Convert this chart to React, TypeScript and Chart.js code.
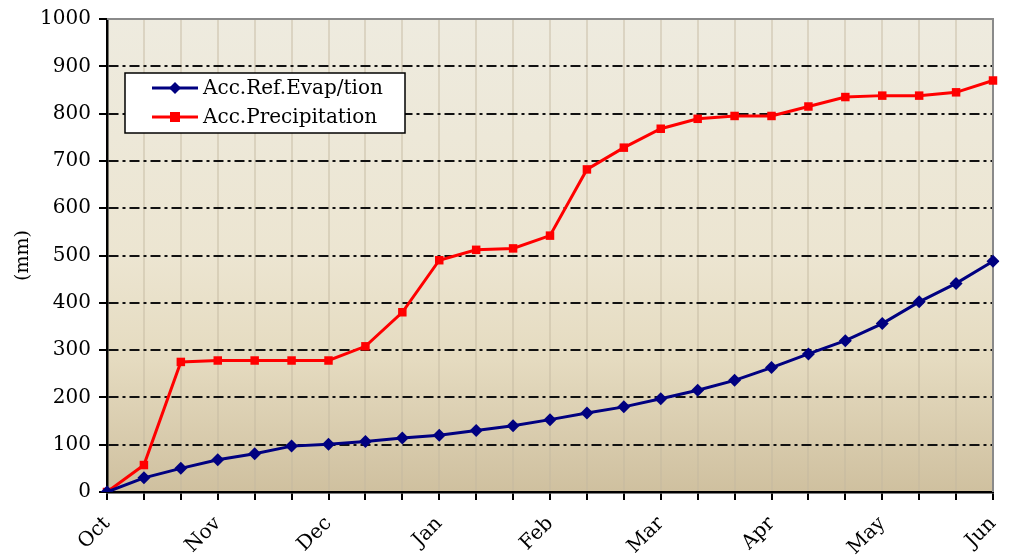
import React, { useEffect, useRef } from "react";
import { Chart, registerables } from "chart.js";

Chart.register(...registerables);

const xLabels = [
  "Oct", "", "", "Nov", "", "", "Dec", "", "", "Jan", "", "", "Feb", "", "",
  "Mar", "", "", "Apr", "", "", "May", "", "", "Jun",
];
const evapLabel = "Acc.Ref.Evap/tion";
const precipLabel = "Acc.Precipitation";
const evapValues = [
  0, 30, 50, 68, 81, 97, 101, 107, 114, 120, 130, 140, 153, 167, 180, 197,
  215, 236, 263, 292, 320, 356, 402, 441, 488,
];
const precipValues = [
  0, 57, 275, 278, 278, 278, 278, 308, 380, 490, 512, 515, 542, 682, 728, 768,
  789, 795, 795, 815, 835, 838, 838, 845, 870,
];
const yTicks = [0, 100, 200, 300, 400, 500, 600, 700, 800, 900, 1000];
const yTitle = "(mm)";

const FONT = "'DejaVu Serif', serif";

const bgPlugin = {
  id: "bgPlugin",
  beforeDraw(chart: any) {
    const { ctx, chartArea } = chart;
    const { left, right, top, bottom } = chartArea;
    const g = ctx.createLinearGradient(0, top, 0, bottom);
    g.addColorStop(0, "#eeebdf");
    g.addColorStop(0.5, "#ece5d1");
    g.addColorStop(0.72, "#e5dbc0");
    g.addColorStop(1, "#cfc09f");
    ctx.save();
    ctx.fillStyle = g;
    ctx.fillRect(left, top, right - left, bottom - top);
    ctx.restore();
  },
};

const frameLegendPlugin = {
  id: "frameLegendPlugin",
  beforeDatasetsDraw(chart: any) {
    const { ctx, chartArea } = chart;
    const { left, right, top, bottom } = chartArea;
    ctx.save();
    ctx.strokeStyle = "#8a8a8a";
    ctx.lineWidth = 2;
    ctx.beginPath();
    ctx.moveTo(left, top);
    ctx.lineTo(right, top);
    ctx.lineTo(right, bottom);
    ctx.stroke();
    ctx.restore();
  },
  afterDraw(chart: any) {
    const { ctx } = chart;
    const bx = 125, by = 73, bw = 280, bh = 60;
    ctx.save();
    ctx.fillStyle = "#ffffff";
    ctx.fillRect(bx, by, bw, bh);
    ctx.strokeStyle = "#000000";
    ctx.lineWidth = 1.5;
    ctx.strokeRect(bx, by, bw, bh);
    const rows = [
      { y: by + 15, ds: chart.data.datasets[0] },
      { y: by + 44, ds: chart.data.datasets[1] },
    ];
    for (const r of rows) {
      ctx.strokeStyle = r.ds.borderColor;
      ctx.lineWidth = 3;
      ctx.beginPath();
      ctx.moveTo(152, r.y);
      ctx.lineTo(198, r.y);
      ctx.stroke();
      ctx.fillStyle = r.ds.borderColor;
      ctx.beginPath();
      if (r.ds.pointStyle === "rectRot") {
        ctx.moveTo(175, r.y - 6);
        ctx.lineTo(181, r.y);
        ctx.lineTo(175, r.y + 6);
        ctx.lineTo(169, r.y);
        ctx.closePath();
      } else {
        ctx.rect(170, r.y - 5, 10, 10);
      }
      ctx.fill();
      ctx.fillStyle = "#000000";
      ctx.font = `20px ${FONT}`;
      ctx.textBaseline = "middle";
      ctx.textAlign = "left";
      ctx.fillText(r.ds.label, 203, r.y + 1);
    }
    ctx.restore();
  },
};

export default function App() {
  const ref = useRef<HTMLCanvasElement | null>(null);
  useEffect(() => {
    if (!ref.current) return;
    const chart = new Chart(ref.current, {
      type: "line",
      data: {
        labels: xLabels,
        datasets: [
          {
            label: evapLabel,
            data: evapValues,
            borderColor: "#000080",
            backgroundColor: "#000080",
            borderWidth: 3,
            pointStyle: "rectRot",
            pointRadius: 6.5,
            pointBorderWidth: 0,
            tension: 0,
          },
          {
            label: precipLabel,
            data: precipValues,
            borderColor: "#ff0000",
            backgroundColor: "#ff0000",
            borderWidth: 3,
            pointStyle: "rect",
            pointRadius: 6,
            pointBorderWidth: 0,
            tension: 0,
          },
        ],
      },
      options: {
        animation: false,
        responsive: false,
        maintainAspectRatio: false,
        layout: { padding: { top: 19, right: 21, left: 0, bottom: 0 } },
        plugins: {
          legend: { display: false },
          tooltip: { enabled: false },
        },
        scales: {
          x: {
            type: "category",
            offset: false,
            grid: {
              color: (c: any) =>
                c.index === 0 || c.index === xLabels.length - 1
                  ? "rgba(0,0,0,0)"
                  : "rgba(195,185,160,0.45)",
              lineWidth: 2,
              drawTicks: true,
              tickLength: 8,
              tickColor: "#000000",
              tickWidth: 2,
            },
            border: { display: true, color: "#000000", width: 2.5 },
            ticks: {
              autoSkip: false,
              maxRotation: 45,
              minRotation: 45,
              color: "#000000",
              font: { family: FONT, size: 20 },
              padding: 12,
            },
            afterFit: (s: any) => {
              s.height = 555 - 492;
              s.paddingRight = 0;
              s.paddingLeft = 0;
            },
          },
          y: {
            min: 0,
            max: 1000,
            afterBuildTicks: (s: any) => {
              s.ticks = yTicks.map((v) => ({ value: v }));
            },
            grid: {
              color: (c: any) =>
                c.tick && (c.tick.value === 0 || c.tick.value === 1000)
                  ? "rgba(0,0,0,0)"
                  : "#111111",
              lineWidth: 2,
              tickBorderDash: [],
              tickLength: 8,
              tickColor: "#000000",
              tickWidth: 2,
            },
            border: { display: true, color: "#000000", width: 2.5, dash: [10, 4, 3, 4] },
            ticks: {
              color: "#000000",
              font: { family: FONT, size: 20 },
              padding: 8,
              callback: (v: any) => String(v),
            },
            title: {
              display: true,
              text: yTitle,
              color: "#000000",
              font: { family: FONT, size: 19 },
              padding: { top: 0, bottom: 0 },
            },
            afterFit: (s: any) => {
              s.width = 107;
              s.paddingTop = 0;
              s.paddingBottom = 0;
            },
          },
        },
      },
      plugins: [
        bgPlugin,
        frameLegendPlugin,
        {
          id: "titleShift",
          afterLayout(chart: any) {
            const y = chart.scales.y;
            if (y && y.options.title) {
              y.options.title.padding = { top: 12, bottom: 0 };
            }
          },
        },
      ],
    });
    return () => chart.destroy();
  }, []);
  return (
    <div style={{ position: "fixed", left: 0, top: 0, width: 1014, height: 555, background: "#ffffff" }}>
      <canvas ref={ref} width={1014} height={555} style={{ width: 1014, height: 555 }} />
    </div>
  );
}
